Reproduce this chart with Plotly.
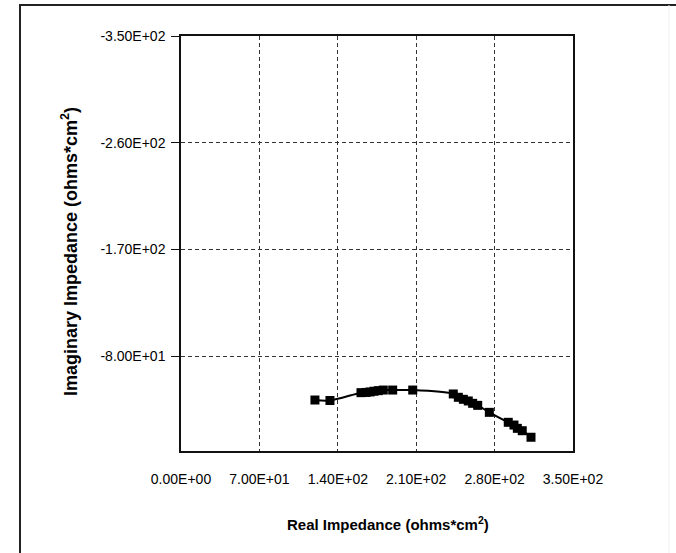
import plotly.graph_objects as go

# Data (Nyquist plot)
real_z = [119.6, 133.0, 160.7, 165.2, 168.8, 172.3, 176.2, 180.6, 189.0, 206.9,
          243.1, 247.6, 252.1, 256.5, 260.4, 264.9, 275.3, 292.2, 297.3, 300.3,
          304.7, 312.5]
imag_z = [-43.0, -42.6, -49.2, -49.4, -49.8, -50.4, -50.9, -51.4, -51.4, -51.4,
          -48.1, -45.3, -43.6, -42.2, -40.2, -38.5, -32.6, -24.2, -21.9, -19.1,
          -17.1, -11.6]

x_ticks = [0, 70, 140, 210, 280, 350]
y_ticks = [-350, -260, -170, -80]
x_labels = ["{:.2E}".format(v) for v in x_ticks]
y_labels = ["{:.2E}".format(v) for v in y_ticks]

FONT = "Liberation Sans, Arial, sans-serif"

fig = go.Figure()
fig.add_trace(go.Scatter(
    x=real_z, y=imag_z, mode="lines+markers",
    line=dict(color="black", width=2, shape="spline", smoothing=0.8),
    marker=dict(symbol="square", size=9, color="black"),
    showlegend=False,
))

grid = dict(showgrid=True, gridcolor="#333333", gridwidth=1, griddash="4px,3px",
            zeroline=False, showline=True, linecolor="#111111", linewidth=1.5,
            mirror=True)

fig.update_xaxes(range=[0, 350], tickvals=x_ticks, ticktext=x_labels,
                 ticks="outside", ticklen=14, tickcolor="rgba(0,0,0,0)",
                 tickfont=dict(family=FONT, size=14, color="black"), **grid)
fig.update_yaxes(range=[0, -350], tickvals=y_ticks, ticktext=y_labels,
                 ticks="outside", ticklen=8, tickcolor="#111111",
                 ticklabelstandoff=3,
                 tickfont=dict(family=FONT, size=14, color="black"), **grid)

# plot area: x 181..573, y 36..451
W, H = 676, 553
L, R, T, B = 181, 573, 36, 451
pw, ph = R - L, B - T

def px(x):
    return (x - L) / pw

def py(y):
    return (B - y) / ph

fig.add_annotation(text="Real Impedance (ohms*cm<sup>2</sup>)", xref="paper", yref="paper",
                   x=px(388), y=py(523), xanchor="center", yanchor="middle",
                   showarrow=False, font=dict(family=FONT, size=15, color="black", weight="bold"))
fig.add_annotation(text="Imaginary Impedance (ohms*cm<sup>2</sup>)", xref="paper", yref="paper",
                   x=px(69), y=py(252), xanchor="center", yanchor="middle", textangle=-90,
                   showarrow=False, font=dict(family=FONT, size=18, color="black", weight="bold"))

# outer chart frame (only left and top edges visible in the reference)
fig.add_shape(type="line", xref="paper", yref="paper", x0=px(20), x1=px(20),
              y0=py(5), y1=py(560), line=dict(color="#222222", width=2))
fig.add_shape(type="line", xref="paper", yref="paper", x0=px(19), x1=px(680),
              y0=py(5), y1=py(5), line=dict(color="#222222", width=2))
fig.add_shape(type="line", xref="paper", yref="paper", x0=px(669), x1=px(669),
              y0=py(5), y1=py(560), line=dict(color="#eeeeee", width=1))

fig.update_layout(
    width=W, height=H,
    margin=dict(l=L, r=W - R, t=T, b=H - B),
    paper_bgcolor="white", plot_bgcolor="white",
    font=dict(family=FONT, color="black"),
)

fig.write_html("out.html")
